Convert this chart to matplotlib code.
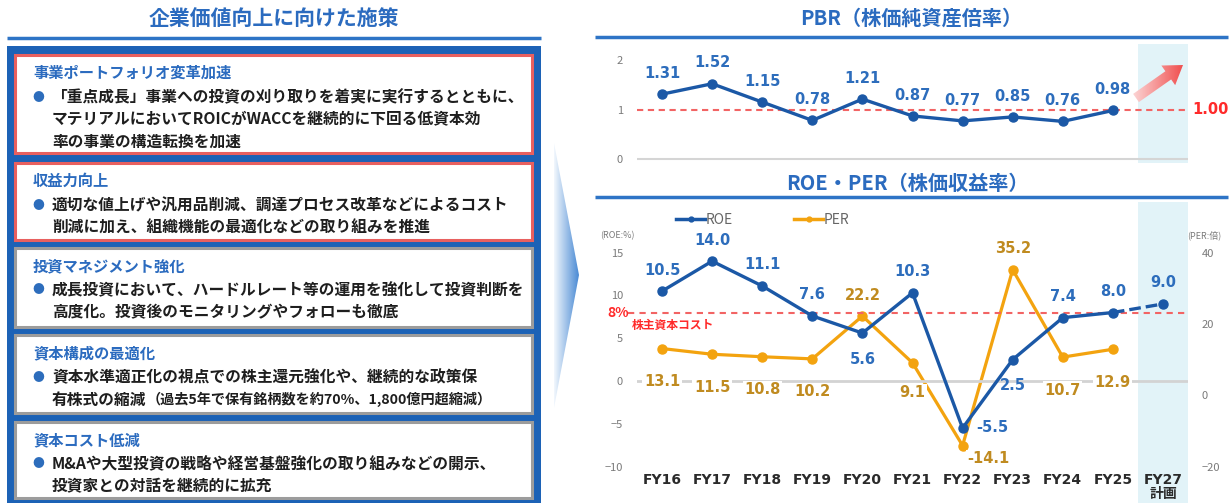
import numpy as np
import matplotlib.pyplot as plt
from matplotlib.patches import Rectangle, Polygon, FancyArrow
from matplotlib.lines import Line2D
from matplotlib.colors import LinearSegmentedColormap

plt.rcParams['font.family'] = ['Noto Sans CJK JP', 'DejaVu Sans']

# data
years = ["FY16", "FY17", "FY18", "FY19", "FY20", "FY21", "FY22", "FY23", "FY24", "FY25"]
plan_year = "FY27\n計画"
pbr = [1.31, 1.52, 1.15, 0.78, 1.21, 0.87, 0.77, 0.85, 0.76, 0.98]
pbr_target = 1.00
roe = [10.5, 14.0, 11.1, 7.6, 5.6, 10.3, -5.5, 2.5, 7.4, 8.0]
roe_plan = 9.0
per = [13.1, 11.5, 10.8, 10.2, 22.2, 9.1, -14.1, 35.2, 10.7, 12.9]
cost_of_equity = 8.0

measure_titles = ["事業ポートフォリオ変革加速", "収益力向上", "投資マネジメント強化",
                  "資本構成の最適化", "資本コスト低減"]
measure_lines = [
    ["「重点成長」事業への投資の刈り取りを着実に実行するとともに、",
     "マテリアルにおいてROICがWACCを継続的に下回る低資本効",
     "率の事業の構造転換を加速"],
    ["適切な値上げや汎用品削減、調達プロセス改革などによるコスト",
     "削減に加え、組織機能の最適化などの取り組みを推進"],
    ["成長投資において、ハードルレート等の運用を強化して投資判断を",
     "高度化。投資後のモニタリングやフォローも徹底"],
    ["資本水準適正化の視点での株主還元強化や、継続的な政策保",
     "有株式の縮減"],
    ["M&Aや大型投資の戦略や経営基盤強化の取り組みなどの開示、",
     "投資家との対話を継続的に拡充"],
]
measure_note = "（過去5年で保有銘柄数を約70%、1,800億円超縮減）"

# colours
TITLE_BLUE = "#2b6bbf"
LINE_BLUE = "#2e74c6"
FRAME_BLUE = "#1c62b6"
ROE_BLUE = "#1b58a6"
LABEL_BLUE = "#2d6dbc"
PER_ORANGE = "#f3a30f"
PER_LABEL = "#c08b20"
RED = "#ff2a2a"
RED_DASH = "#f26464"
BAND = "#e2f3f8"
TICK_GRAY = "#7a7a7a"
NUM_FONT = ["DejaVu Sans"]

W, H = 1232, 503
fig = plt.figure(figsize=(W / 100, H / 100), dpi=100)


def rect(l, t, r, b):
    return [l / W, 1 - b / H, (r - l) / W, (b - t) / H]


def gradient_fill(ax, patch, c0, c1, extent):
    patch.set_facecolor("none")
    patch.set_edgecolor("none")
    ax.add_patch(patch)
    cmap = LinearSegmentedColormap.from_list("g", [c0, c1])
    img = ax.imshow(np.linspace(0, 1, 256)[None, :], cmap=cmap, extent=extent,
                    aspect="auto", interpolation="bilinear", zorder=2)
    img.set_clip_path(patch)


# background layer in pixel units
bg = fig.add_axes([0, 0, 1, 1])
bg.axis("off")

# ---- left panel ----
bg.text(274, 19, "企業価値向上に向けた施策", ha="center", va="center",
        fontsize=15, fontweight="bold", color=TITLE_BLUE)
bg.plot([7, 541], [38, 38], color=LINE_BLUE, lw=2.5, solid_capstyle="butt")
bg.add_patch(Rectangle((7, 46), 534, 460, fc=FRAME_BLUE, ec="none"))

box_spans = [(55, 153), (163, 240), (248, 327), (335, 413), (422, 498)]
box_edges = ["#e8605f", "#e8605f", "#9c9c9c", "#9c9c9c", "#9c9c9c"]
for (top, bot), ec, head, lines in zip(box_spans, box_edges, measure_titles, measure_lines):
    bg.add_patch(Rectangle((15, top), 517, bot - top, fc="white", ec=ec, lw=2.2))
    bg.text(33, top + 18, head, ha="left", va="center", fontsize=11,
            fontweight="bold", color=TITLE_BLUE)
    bg.text(38, top + 42, "●", ha="center", va="center", fontsize=8.5, color=LABEL_BLUE)
    for k, line in enumerate(lines):
        t = bg.text(52, top + 42 + 22.5 * k, line, ha="left", va="center",
                    fontsize=11.3, fontweight="bold", color="#1e1e1e")
    if head == "資本構成の最適化":
        bg.annotate(measure_note, xy=(1, 0.5), xycoords=t, xytext=(0, 0),
                    textcoords="offset points", ha="left", va="center",
                    fontsize=10.2, fontweight="bold", color="#1e1e1e")

# chevron between the panels
gradient_fill(bg, Polygon([(554, 143), (579, 275), (554, 408)], closed=True),
              "#f3f8fd", "#4a8ad4", (554, 579, 408, 143))

# ---- right panel titles ----
bg.text(911, 18, "PBR（株価純資産倍率）", ha="center", va="center",
        fontsize=14.5, fontweight="bold", color=TITLE_BLUE)
bg.plot([595, 1228], [37, 37], color=LINE_BLUE, lw=2.5, solid_capstyle="butt")
bg.text(907, 183, "ROE・PER（株価収益率）", ha="center", va="center",
        fontsize=14.5, fontweight="bold", color=TITLE_BLUE)
bg.plot([595, 1228], [197, 197], color=LINE_BLUE, lw=2.5, solid_capstyle="butt")
bg.set_xlim(0, W)
bg.set_ylim(H, 0)

x = np.arange(len(years))

# ---- PBR chart ----
ax1 = fig.add_axes(rect(637, 44, 1188, 163))
ax1.patch.set_alpha(0)
ax1.axvspan(9.5, 10.5, color=BAND, lw=0, zorder=0)
ax1.axhline(0, color="#d5d5d5", lw=1.5, zorder=1)
ax1.axhline(pbr_target, color=RED_DASH, lw=1.5, ls=(0, (3, 2.2)), zorder=1)
ax1.plot(x, pbr, color=ROE_BLUE, lw=2.4, marker="o", ms=6.5, zorder=3)
for i, v in enumerate(pbr):
    ax1.annotate(f"{v:.2f}", (i, v), xytext=(0, 15), textcoords="offset points",
                 ha="center", va="center", fontsize=10.5, fontweight="bold",
                 color=LABEL_BLUE, family=NUM_FONT)
ax1.text(1.04, pbr_target, f"{pbr_target:.2f}", transform=ax1.get_yaxis_transform(),
         ha="center", va="center", fontsize=10.5, fontweight="bold", color=RED,
         family=NUM_FONT)
ax1.set_xlim(-0.5, 10.5)
ax1.set_ylim(-4 / 49.5, 115 / 49.5)
ax1.set_yticks([0, 1, 2])
ax1.set_xticks([])
ax1.tick_params(axis="y", length=0, pad=10, labelsize=8, labelcolor=TICK_GRAY)
for s in ax1.spines.values():
    s.set_visible(False)

# ---- ROE / PER chart ----
ax2 = fig.add_axes(rect(637, 202, 1188, 470))
ax3 = ax2.twinx()
ax2.set_zorder(ax3.get_zorder() + 1)
ax2.patch.set_visible(False)
ax3.patch.set_visible(False)

roe_lim = (-89 / 8.56, 179 / 8.56)
ax2.set_ylim(roe_lim)
ax3.set_ylim(2.4 * roe_lim[0] + 4, 2.4 * roe_lim[1] + 4)
ax2.set_xlim(-0.5, 10.5)

ax3.axvspan(9.5, 10.5, ymin=-33 / 268, ymax=1, color=BAND, lw=0, zorder=0, clip_on=False)
ax2.axhline(0, color="#d3d3d3", lw=2, zorder=1)
ax2.axhline(cost_of_equity, xmin=-0.016, xmax=1, color=RED_DASH, lw=1.5,
            ls=(0, (3, 2.5)), zorder=1, clip_on=False)

ax3.plot(x, per, color=PER_ORANGE, lw=2.3, marker="o", ms=6.5, zorder=3)
ax2.plot(x, roe, color=ROE_BLUE, lw=2.4, marker="o", ms=6.5, zorder=3)
ax2.plot([x[-1], x[-1] + 1], [roe[-1], roe_plan], color=ROE_BLUE, lw=2.4,
         ls=(0, (3.5, 1.5)), marker="o", ms=6.5, markevery=[1], zorder=3)

# value labels (offsets in pixels)
roe_off = {4: (0, -26), 6: (30, 1), 7: (0, -26)}
for i, v in enumerate(roe + [roe_plan]):
    dx, dy = roe_off.get(i, (0, 21))
    ax2.annotate(f"{v:.1f}", (i, v), xytext=(dx * 0.72, dy * 0.72),
                 textcoords="offset points", ha="center", va="center",
                 fontsize=10.5, fontweight="bold", color=LABEL_BLUE,
                 family=NUM_FONT, zorder=5)

per_off = {4: (0, 21), 5: (0, -30), 6: (26, -13), 7: (0, 21)}
for i, v in enumerate(per):
    dx, dy = per_off.get(i, (0, -33))
    ax2.annotate(f"{v:.1f}", (i, v), xycoords=ax3.transData,
                 xytext=(dx * 0.72, dy * 0.72), textcoords="offset points",
                 ha="center", va="center", fontsize=10.5, fontweight="bold",
                 color=PER_LABEL, family=NUM_FONT, zorder=5,
                 bbox=dict(boxstyle="square,pad=0.1", fc="white", ec="none"))

ytr = ax2.get_yaxis_transform()
ax2.text(-0.034, cost_of_equity, f"{cost_of_equity:.0f}%", transform=ytr,
         ha="center", va="center", fontsize=10, fontweight="bold", color=RED)
ax2.annotate("株主資本コスト", (-0.01, cost_of_equity), xycoords=ytr, xytext=(0, -9),
             textcoords="offset points", ha="left", va="center", fontsize=8.5,
             fontweight="bold", color=RED)
ax2.text(-0.035, 0.875, "(ROE:%)", transform=ax2.transAxes, ha="center", va="center",
         fontsize=6.5, color=TICK_GRAY)
ax2.text(1.03, 0.875, "(PER:倍)", transform=ax2.transAxes, ha="center", va="center",
         fontsize=6.5, color=TICK_GRAY)

ax2.set_yticks([-10, -5, 0, 5, 10, 15])
ax3.set_yticks([-20, 0, 20, 40])
ax2.set_xticks(range(len(years) + 1))
ax2.set_xticklabels(years + [plan_year])
ax2.tick_params(axis="y", length=0, pad=10, labelsize=8, labelcolor=TICK_GRAY)
ax3.tick_params(axis="y", length=0, pad=10, labelsize=8, labelcolor=TICK_GRAY)
ax2.tick_params(axis="x", length=0, pad=2, labelsize=10, labelcolor="#2a2a2a")
for lbl in ax2.get_xticklabels():
    lbl.set_fontweight("bold")
    lbl.set_family(["DejaVu Sans", "Noto Sans CJK JP"])
    lbl.set_linespacing(1.0)
for a in (ax2, ax3):
    for s in a.spines.values():
        s.set_visible(False)

handles = [Line2D([], [], color=ROE_BLUE, lw=2.5, marker="o", ms=3.5, label="ROE"),
           Line2D([], [], color=PER_ORANGE, lw=2.5, marker="o", ms=3.5, label="PER")]
leg = ax2.legend(handles=handles, loc="center left", bbox_to_anchor=(676 / W, 1 - 220 / H),
                 bbox_transform=fig.transFigure, ncol=2, frameon=False, fontsize=10,
                 handlelength=2.1, handletextpad=0.05, columnspacing=4.4,
                 borderpad=0, borderaxespad=0)
for t in leg.get_texts():
    t.set_color("#666666")

# target arrow on top of everything
fg = fig.add_axes([0, 0, 1, 1])
fg.axis("off")
fg.patch.set_visible(False)
arrow = FancyArrow(1136, 98, 47, -33, width=10, head_width=24, head_length=18,
                   length_includes_head=True)
gradient_fill(fg, arrow, "#fde2e2", "#ef4747", (1128, 1186, 110, 60))
fg.set_xlim(0, W)
fg.set_ylim(H, 0)

fig.savefig("out.png", dpi=100)
